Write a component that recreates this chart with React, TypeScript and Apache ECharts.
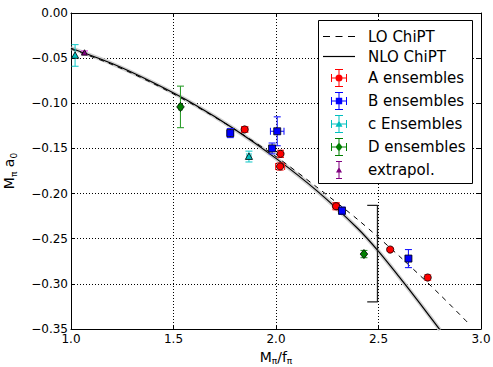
import React, { useEffect, useRef } from 'react';
import * as echarts from 'echarts';

// ---- Curves ----
const loX = [1.0, 1.2, 1.4, 1.6, 1.8, 2.0, 2.2, 2.4, 2.6, 2.8, 2.94];
const loY = [-0.040, -0.057, -0.078, -0.102, -0.129, -0.159, -0.193, -0.229, -0.269, -0.312, -0.344];
const nloX = [1.0, 1.2, 1.4, 1.6, 1.8, 2.0, 2.2, 2.4, 2.5, 2.6, 2.7, 2.8];
const nloY = [-0.039, -0.056, -0.077, -0.101, -0.129, -0.161, -0.197, -0.239, -0.264, -0.292, -0.321, -0.351];

// ---- Ensembles: x, y, x-error, y-error ----
const aX = [1.847, 2.022, 2.020, 2.293, 2.557, 2.740];
const aY = [-0.129, -0.156, -0.170, -0.214, -0.262, -0.293];
const aXErr = [0.015, 0.012, 0.022, 0.015, 0.008, 0.008];
const aYErr = [0.003, 0.004, 0.004, 0.004, 0.002, 0.003];

const bX = [1.777, 2.006, 1.981, 2.322, 2.646];
const bY = [-0.133, -0.131, -0.150, -0.219, -0.272];
const bXErr = [0.015, 0.033, 0.010, 0.012, 0.012];
const bYErr = [0.005, 0.016, 0.006, 0.004, 0.010];

const cX = [1.020, 1.868];
const cY = [-0.047, -0.159];
const cXErr = [0.0, 0.010];
const cYErr = [0.012, 0.006];

const dX = [1.534, 2.429];
const dY = [-0.104, -0.267];
const dXErr = [0.008, 0.006];
const dYErr = [0.023, 0.004];

const eX = [1.066];
const eY = [-0.044];
const eXErr = [0.0];
const eYErr = [0.002];

// ---- Bracket annotation ----
const brX = [2.445, 2.495, 2.495, 2.445];
const brY = [-0.213, -0.213, -0.320, -0.320];

const xTicks = { min: 1.0, max: 3.0, interval: 0.5 };
const yTicks = { min: -0.35, max: 0.0, interval: 0.05 };

const FONT = 'DejaVu Sans';

const zip2 = (xs: number[], ys: number[]) => xs.map((x, i) => [x, ys[i]]);
const zip4 = (xs: number[], ys: number[], xe: number[], ye: number[]) =>
  xs.map((x, i) => [x, ys[i], xe[i], ye[i]]);

type Shape = 'circle' | 'square' | 'triangle' | 'diamond';

function makeRenderItem(shape: Shape, markerColor: string, errColor: string, size: number) {
  return (params: any, api: any) => {
    const x = api.value(0), y = api.value(1), xe = api.value(2), ye = api.value(3);
    const c = api.coord([x, y]);
    const cap = 3.5;
    const es = { stroke: errColor, lineWidth: 1.1 };
    const children: any[] = [];
    if (xe > 0) {
      const l = api.coord([x - xe, y]);
      const r = api.coord([x + xe, y]);
      children.push({ type: 'line', shape: { x1: l[0], y1: l[1], x2: r[0], y2: r[1] }, style: es });
      children.push({ type: 'line', shape: { x1: l[0], y1: l[1] - cap, x2: l[0], y2: l[1] + cap }, style: es });
      children.push({ type: 'line', shape: { x1: r[0], y1: r[1] - cap, x2: r[0], y2: r[1] + cap }, style: es });
    }
    if (ye > 0) {
      const t = api.coord([x, y + ye]);
      const b = api.coord([x, y - ye]);
      children.push({ type: 'line', shape: { x1: t[0], y1: t[1], x2: b[0], y2: b[1] }, style: es });
      children.push({ type: 'line', shape: { x1: t[0] - cap, y1: t[1], x2: t[0] + cap, y2: t[1] }, style: es });
      children.push({ type: 'line', shape: { x1: b[0] - cap, y1: b[1], x2: b[0] + cap, y2: b[1] }, style: es });
    }
    const ms = { fill: markerColor, stroke: '#000', lineWidth: 0.8 };
    const s = size;
    if (shape === 'circle') {
      children.push({ type: 'circle', shape: { cx: c[0], cy: c[1], r: s }, style: ms });
    } else if (shape === 'square') {
      children.push({ type: 'rect', shape: { x: c[0] - s, y: c[1] - s, width: 2 * s, height: 2 * s }, style: ms });
    } else if (shape === 'triangle') {
      children.push({
        type: 'polygon',
        shape: { points: [[c[0], c[1] - s], [c[0] + s, c[1] + s * 0.8], [c[0] - s, c[1] + s * 0.8]] },
        style: ms,
      });
    } else {
      children.push({
        type: 'polygon',
        shape: { points: [[c[0], c[1] - s * 1.2], [c[0] + s, c[1]], [c[0], c[1] + s * 1.2], [c[0] - s, c[1]]] },
        style: ms,
      });
    }
    return { type: 'group', children };
  };
}

const crossBase =
  'M0 8.5H16V9.5H0Z M0 5H1V13H0Z M15 5H16V13H15Z M7.5 0H8.5V18H7.5Z M4 0H12V1H4Z M4 17H12V18H4Z ';
const iconCircle = 'path://' + crossBase + 'M11.5 9A3.5 3.5 0 1 1 4.5 9A3.5 3.5 0 1 1 11.5 9Z';
const iconSquare = 'path://' + crossBase + 'M4.8 5.8H11.2V12.2H4.8Z';
const iconTriangle = 'path://' + crossBase + 'M8 5.5L11.5 11.8H4.5Z';
const iconDiamond = 'path://' + crossBase + 'M8 4.5L11.5 9L8 13.5L4.5 9Z';
const iconTriSmall = 'path://' + 'M7.5 0H8.5V18H7.5Z M5 0H11V1H5Z M5 17H11V18H5Z M8 6L11 11.5H5Z';
const iconDashed = 'path://M0 0H7V1H0Z M12.5 0H19.5V1H12.5Z M25 0H32V1H25Z';
const iconSolid = 'path://M0 0H32V1.2H0Z';

function errSeries(name: string, data: number[][], shape: Shape, color: string, errColor: string, size: number) {
  return {
    name,
    type: 'custom',
    data,
    dimensions: ['x', 'y', 'xe', 'ye'],
    encode: { x: 0, y: 1 },
    itemStyle: { color },
    renderItem: makeRenderItem(shape, color, errColor, size),
    z: 5,
    silent: true,
  };
}

const richSub = {
  m: { fontFamily: FONT, fontSize: 14, color: '#000', lineHeight: 16, padding: [0, 0, 4, 0], verticalAlign: 'top' },
  s: { fontFamily: FONT, fontSize: 9, color: '#000', lineHeight: 8, verticalAlign: 'bottom' },
};

export default function App() {
  const ref = useRef<HTMLDivElement>(null);
  useEffect(() => {
    if (!ref.current) return;
    const chart = echarts.init(ref.current, undefined, { renderer: 'svg' });
    const axisCommon = {
      axisLine: { show: true, onZero: false, lineStyle: { color: '#000', width: 1 } },
      axisTick: { show: true, inside: true, length: 4, lineStyle: { color: '#000' } },
    };
    const yFmt = (v: number) => (v < -1e-9 ? '\u2212' : '') + Math.abs(v).toFixed(2);
    const option: any = {
      animation: false,
      backgroundColor: '#fff',
      grid: { left: 71, right: 12, top: 13, bottom: 38, outerBoundsMode: 'none' },
      graphic: [
        {
          type: 'rect',
          shape: { x: 318.5, y: 20.5, width: 154, height: 163 },
          style: { fill: '#fff', stroke: '#000', lineWidth: 1 },
          z: 9,
          silent: true,
        },
      ],
      legend: {
        left: 323,
        top: 29,
        orient: 'vertical',
        padding: 0,
        itemWidth: 32,
        itemHeight: 18,
        itemGap: 5,
        selectedMode: false,
        textStyle: { fontFamily: FONT, fontSize: 15, color: '#000', padding: [0, 0, 0, 8] },
        data: [
          { name: 'LO ChiPT', icon: iconDashed },
          { name: 'NLO ChiPT', icon: iconSolid },
          { name: 'A ensembles', icon: iconCircle },
          { name: 'B ensembles', icon: iconSquare },
          { name: 'c Ensembles', icon: iconTriangle },
          { name: 'D ensembles', icon: iconDiamond },
          { name: 'extrapol.', icon: iconTriSmall },
        ],
        z: 10,
      },
      xAxis: [
        {
          type: 'value',
          ...xTicks,
          ...axisCommon,
          name: '{m|M}{s|\u03c0}{m|/f}{s|\u03c0}',
          nameLocation: 'middle',
          nameGap: 18,
          nameTextStyle: { rich: richSub },
          axisLabel: { fontFamily: FONT, fontSize: 12, color: '#000', margin: 4, formatter: (v: number) => v.toFixed(1) },
          splitLine: { show: true, lineStyle: { color: '#000', type: [1, 2], width: 1 } },
        },
        {
          type: 'value',
          position: 'top',
          ...xTicks,
          ...axisCommon,
          axisLabel: { show: false },
          splitLine: { show: false },
        },
      ],
      yAxis: [
        {
          type: 'value',
          ...yTicks,
          ...axisCommon,
          name: '{m|M}{s|\u03c0}{m| a}{s|0}',
          nameLocation: 'middle',
          nameGap: 33,
          nameTextStyle: { rich: richSub },
          axisLabel: { fontFamily: FONT, fontSize: 12, color: '#000', margin: 3, formatter: yFmt },
          splitLine: { show: true, lineStyle: { color: '#000', type: [1, 2], width: 1 } },
        },
        {
          type: 'value',
          position: 'right',
          ...yTicks,
          ...axisCommon,
          axisLabel: { show: false },
          splitLine: { show: false },
        },
      ],
      series: [
        {
          name: 'NLO band',
          type: 'line',
          data: zip2(nloX, nloY),
          smooth: 0.3,
          showSymbol: false,
          symbol: 'none',
          lineStyle: { color: '#d0d0d0', width: 4 },
          itemStyle: { color: '#d0d0d0' },
          silent: true,
          z: 2,
        },
        {
          name: 'LO ChiPT',
          type: 'line',
          data: zip2(loX, loY),
          smooth: 0.3,
          showSymbol: false,
          symbol: 'none',
          lineStyle: { color: '#000', width: 1, type: [5, 5] },
          itemStyle: { color: '#000' },
          silent: true,
          z: 3,
        },
        {
          name: 'NLO ChiPT',
          type: 'line',
          data: zip2(nloX, nloY),
          smooth: 0.3,
          showSymbol: false,
          symbol: 'none',
          lineStyle: { color: '#000', width: 1.2 },
          itemStyle: { color: '#000' },
          silent: true,
          z: 3,
        },
        {
          name: 'bracket',
          type: 'line',
          data: zip2(brX, brY),
          showSymbol: false,
          symbol: 'none',
          lineStyle: { color: '#222', width: 1.3 },
          itemStyle: { color: '#222' },
          silent: true,
          z: 3,
        },
        errSeries('A ensembles', zip4(aX, aY, aXErr, aYErr), 'circle', '#ff0000', '#ff2020', 3.6),
        errSeries('B ensembles', zip4(bX, bY, bXErr, bYErr), 'square', '#0000ff', '#1a1aff', 3.5),
        errSeries('c Ensembles', zip4(cX, cY, cXErr, cYErr), 'triangle', '#00bfbf', '#22cccc', 3.6),
        errSeries('D ensembles', zip4(dX, dY, dXErr, dYErr), 'diamond', '#007f00', '#2e9e2e', 3.8),
        errSeries('extrapol.', zip4(eX, eY, eXErr, eYErr), 'triangle', '#800080', '#dd33dd', 3.0),
      ],
    };
    chart.setOption(option);
    return () => chart.dispose();
  }, []);
  return (
    <div
      ref={ref}
      style={{ position: 'fixed', left: 0, top: 0, width: 493, height: 367, background: '#fff' }}
    />
  );
}
